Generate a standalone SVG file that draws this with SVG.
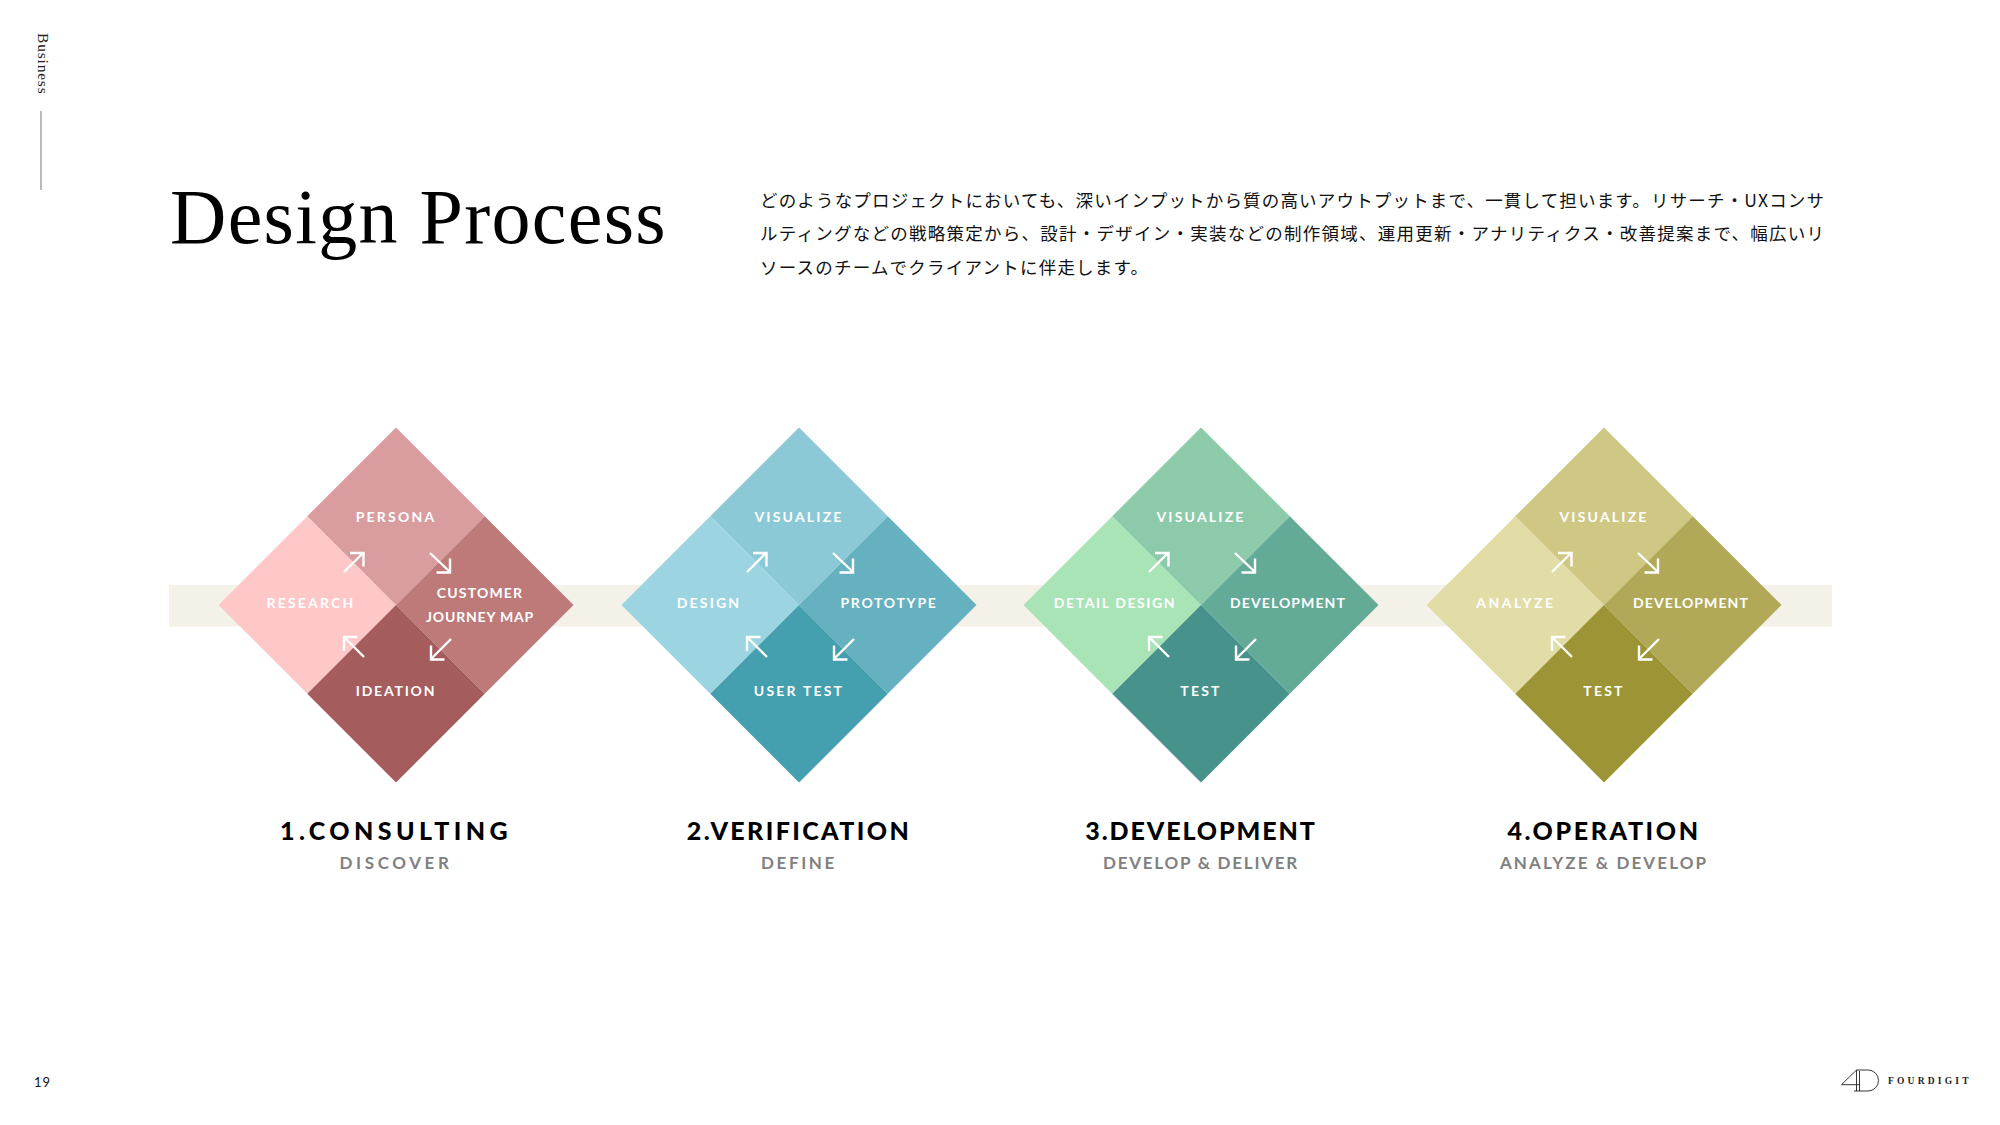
<svg xmlns="http://www.w3.org/2000/svg" xmlns:xlink="http://www.w3.org/1999/xlink" width="2000" height="1125" viewBox="0 0 2000 1125">
<style>
.lb{font-family:"Lato","Noto Sans",sans-serif;font-weight:700;font-size:14px;letter-spacing:2.2px;fill:#fff;text-anchor:middle}
.tt{font-family:"Lato","Noto Sans",sans-serif;font-weight:900;font-size:25px;fill:#000;text-anchor:middle}
.st{font-family:"Lato","Noto Sans",sans-serif;font-weight:700;font-size:17px;fill:#808080;text-anchor:middle}
.jp{font-family:"Noto Sans CJK JP","Noto Sans",sans-serif;font-size:17.5px;fill:#111}
.ar{fill:none;stroke:#fff;stroke-width:2.4}
</style>
<defs>
<polygon id="tile" points="-88.75,0 0,-88.75 88.75,0 0,88.75"/>
<path id="ne" d="M-52,-33L-33,-52M-46,-52H-32.500V-38.500"/>
<path id="se" d="M34,-52L54,-33M54,-46.500V-32.500H40.500"/>
<path id="sw" d="M55,34L35,54M35,40.500V54.500H48.500"/>
<path id="nw" d="M-32,52L-52,32M-52,46V32H-38.500"/>
</defs>
<rect width="2000" height="1125" fill="#fff"/>
<text id="section" transform="translate(38,33) rotate(90)" font-family="Liberation Serif,serif" font-size="15.500" letter-spacing="0.800" fill="#222">Business</text>
<line x1="41" y1="111" x2="41" y2="190" stroke="#777" stroke-width="1"/>
<text id="title" x="170" y="243" font-family="Liberation Serif,serif" font-size="78" letter-spacing="1.300" fill="#000">Design Process</text>
<g id="intro" class="jp">
<text class="jp" x="760" y="207" textLength="1064">どのようなプロジェクトにおいても、深いインプットから質の高いアウトプットまで、一貫して担います。リサーチ・UXコンサ</text>
<text class="jp" x="760" y="240" textLength="1064">ルティングなどの戦略策定から、設計・デザイン・実装などの制作領域、運用更新・アナリティクス・改善提案まで、幅広いリ</text>
<text class="jp" x="760" y="274" textLength="388">ソースのチームでクライアントに伴走します。</text>
</g>
<rect id="band" x="169" y="585" width="1663" height="41.500" fill="#f3f1e8"/>
<g id="consulting" transform="translate(396,605)">
<use xlink:href="#tile" x="-88.750" fill="#fec8c9"/><use xlink:href="#tile" y="-88.750" fill="#d99c9f"/><use xlink:href="#tile" x="88.750" fill="#bd7a78"/><use xlink:href="#tile" y="88.750" fill="#a55c5c"/>
<text class="lb" x="-85" y="3">RESEARCH</text><text class="lb" y="-83">PERSONA</text><text class="lb" x="84" y="-7" style="letter-spacing:1.200px">CUSTOMER</text><text class="lb" x="84" y="17" style="letter-spacing:0.800px">JOURNEY MAP</text><text class="lb" y="91" style="letter-spacing:1.800px">IDEATION</text>
<text class="tt" y="235" style="letter-spacing:4.400px">1.CONSULTING</text><text class="st" y="264" style="letter-spacing:3.600px">DISCOVER</text>
</g>
<g id="verification" transform="translate(799,605)">
<use xlink:href="#tile" x="-88.750" fill="#9cd5e1"/><use xlink:href="#tile" y="-88.750" fill="#8bc9d6"/><use xlink:href="#tile" x="88.750" fill="#65b1bf"/><use xlink:href="#tile" y="88.750" fill="#449fae"/>
<text class="lb" x="-90" y="3">DESIGN</text><text class="lb" y="-83">VISUALIZE</text><text class="lb" x="90" y="3" style="letter-spacing:1.700px">PROTOTYPE</text><text class="lb" y="91">USER TEST</text>
<text class="tt" y="235" style="letter-spacing:2.400px">2.VERIFICATION</text><text class="st" y="264" style="letter-spacing:2.600px">DEFINE</text>
</g>
<g id="development" transform="translate(1201,605)">
<use xlink:href="#tile" x="-88.750" fill="#a9e4b6"/><use xlink:href="#tile" y="-88.750" fill="#8ccaa9"/><use xlink:href="#tile" x="88.750" fill="#63aa97"/><use xlink:href="#tile" y="88.750" fill="#47938c"/>
<text class="lb" x="-86" y="3" style="letter-spacing:1.600px">DETAIL DESIGN</text><text class="lb" y="-83">VISUALIZE</text><text class="lb" x="87" y="3" style="letter-spacing:1.100px">DEVELOPMENT</text><text class="lb" y="91">TEST</text>
<text class="tt" y="235" style="letter-spacing:1.900px">3.DEVELOPMENT</text><text class="st" y="264" style="letter-spacing:1.750px">DEVELOP &amp; DELIVER</text>
</g>
<g id="operation" transform="translate(1604,605)">
<use xlink:href="#tile" x="-88.750" fill="#e2dca6"/><use xlink:href="#tile" y="-88.750" fill="#cfc784"/><use xlink:href="#tile" x="88.750" fill="#b1a957"/><use xlink:href="#tile" y="88.750" fill="#9d9535"/>
<text class="lb" x="-88" y="3" style="letter-spacing:2.500px">ANALYZE</text><text class="lb" y="-83">VISUALIZE</text><text class="lb" x="87" y="3" style="letter-spacing:1.100px">DEVELOPMENT</text><text class="lb" y="91">TEST</text>
<text class="tt" y="235" style="letter-spacing:2.600px">4.OPERATION</text><text class="st" y="264" style="letter-spacing:2.100px">ANALYZE &amp; DEVELOP</text>
</g>
<g id="connectors" class="ar">
<use xlink:href="#ne" x="396" y="605"/><use xlink:href="#se" x="396" y="605"/><use xlink:href="#sw" x="396" y="605"/><use xlink:href="#nw" x="396" y="605"/>
<use xlink:href="#ne" x="799" y="605"/><use xlink:href="#se" x="799" y="605"/><use xlink:href="#sw" x="799" y="605"/><use xlink:href="#nw" x="799" y="605"/>
<use xlink:href="#ne" x="1201" y="605"/><use xlink:href="#se" x="1201" y="605"/><use xlink:href="#sw" x="1201" y="605"/><use xlink:href="#nw" x="1201" y="605"/>
<use xlink:href="#ne" x="1604" y="605"/><use xlink:href="#se" x="1604" y="605"/><use xlink:href="#sw" x="1604" y="605"/><use xlink:href="#nw" x="1604" y="605"/>
</g>
<text id="page" x="34" y="1087" font-family="Lato,sans-serif" font-size="13" letter-spacing="1" fill="#111">19</text>
<g id="logo">
<path d="M1856.500,1070L1841.500,1084.700H1859.500M1856.500,1070V1091M1859.500,1071V1091M1854,1091H1868A10.500,10.500 0 0 0 1868,1070H1856.500" fill="none" stroke="#222" stroke-width="0.900"/>
<text x="1888" y="1084" font-family="Liberation Serif,serif" font-weight="700" font-size="9.500" letter-spacing="3.200" fill="#222">FOURDIGIT</text>
</g>
</svg>
